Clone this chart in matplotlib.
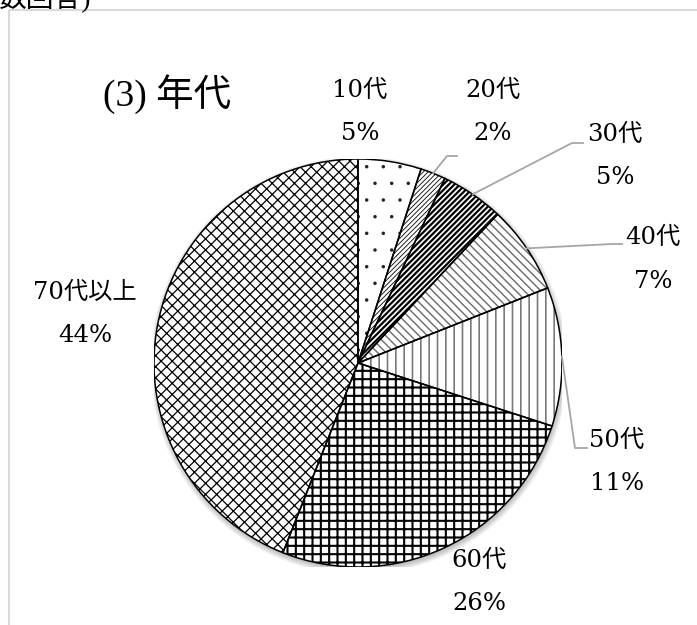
import matplotlib
matplotlib.use("Agg")
import matplotlib.pyplot as plt
from matplotlib.patches import Circle, Rectangle, Wedge
import numpy as np

# ---------------------------------------------------------
# Data
# ---------------------------------------------------------

labels = ["10代", "20代", "30代", "40代", "50代", "60代", "70代以上"]
shares = [5, 2, 5, 7, 11, 26, 44]
pct_labels = ["5%", "2%", "5%", "7%", "11%", "26%", "44%"]

title = "(3) 年代"
note = "数回答)"

# ---------------------------------------------------------
# Style / layout (pixels, y measured from top)
# ---------------------------------------------------------

W, H, DPI = 697, 625, 100
CX, CY, R = 358, 363, 204

hatches = [".", "///////", "//////", "\\\\\\\\", "||", "++", "xxx"]
hatch_colors = ["#222222", "black", "black", "#6a6a6a", "#7a7a7a", "black", "black"]
hatch_lw = [0.1, 0.6, 1.6, 1.0, 1.2, 1.5, 0.9]

label_pos = [(360, 90), (493, 90), (615, 134), (653, 237),
             (617, 440), (479, 560), (85, 292)]
pct_gap = 44

# bend and end points of the leader lines
leaders = [None,
           [(447, 156), (457, 156)],
           [(572, 143), (583, 143)],
           [(612, 244), (622, 244)],
           [(575, 448), (587, 448)],
           None,
           None]

FONT = ["DejaVu Serif", "Noto Sans CJK JP"]
TITLE_FONT = ["Liberation Serif", "Noto Sans CJK JP"]

plt.rcParams["hatch.linewidth"] = 1.1

fig = plt.figure(figsize=(W / DPI, H / DPI), dpi=DPI)

# overlay axes in pixel coordinates
ov = fig.add_axes([0, 0, 1, 1], zorder=3)
ov.set_xlim(0, W)
ov.set_ylim(H, 0)
ov.axis("off")

# pie axes
ax = fig.add_axes([(CX - R) / W, (H - CY - R) / H, 2 * R / W, 2 * R / H])

# soft shadow
for k in range(5):
    ax.add_patch(Circle((0.004, -0.012), 1.0 + 0.006 * k,
                        color="black", alpha=0.05, lw=0, zorder=0))

wedges, _ = ax.pie(
    shares,
    startangle=90,
    counterclock=False,
    radius=1,
    colors=["white"] * len(shares),
    wedgeprops=dict(linewidth=0),
)

# hatch colour follows the edge colour, so the outlines are drawn again on top
for w, h, hc, lw in zip(wedges, hatches, hatch_colors, hatch_lw):
    w.set_edgecolor(hc)
    w.set_linewidth(0)
    w.set_hatch(h)
    if hasattr(w, "set_hatch_linewidth"):
        w.set_hatch_linewidth(lw)
    ax.add_patch(Wedge(w.center, w.r, w.theta1, w.theta2, fill=False,
                       edgecolor="black", linewidth=1.1, zorder=3))

ax.set_xlim(-1, 1)
ax.set_ylim(-1, 1)
ax.axis("off")

# ---------------------------------------------------------
# Labels and leader lines
# ---------------------------------------------------------

cum = np.cumsum([0] + shares)
total = cum[-1]

for i in range(len(shares)):
    x, y = label_pos[i]
    ov.text(x, y, labels[i], ha="center", va="center",
            fontsize=17.5, family=FONT)
    ov.text(x, y + pct_gap, pct_labels[i], ha="center", va="center",
            fontsize=17.5, family=FONT)

    if leaders[i] is not None:
        mid = (cum[i] + cum[i + 1]) / 2 / total * 2 * np.pi
        sx = CX + R * np.sin(mid)
        sy = CY - R * np.cos(mid)
        pts = [(sx, sy)] + leaders[i]
        ov.plot([p[0] for p in pts], [p[1] for p in pts],
                color="#a6a6a6", lw=1.3)

# title and the cut note at the top
ov.text(167, 94, title, ha="center", va="center",
        fontsize=27, family=TITLE_FONT)
ov.text(-2, 7, note, ha="left", va="baseline",
        fontsize=20, family=TITLE_FONT)

# chart frame
ov.add_patch(Rectangle((9, 10), W + 20, H + 20, fill=False,
                       edgecolor="#d9d9d9", lw=1.5))

fig.savefig("out.png", dpi=DPI)
